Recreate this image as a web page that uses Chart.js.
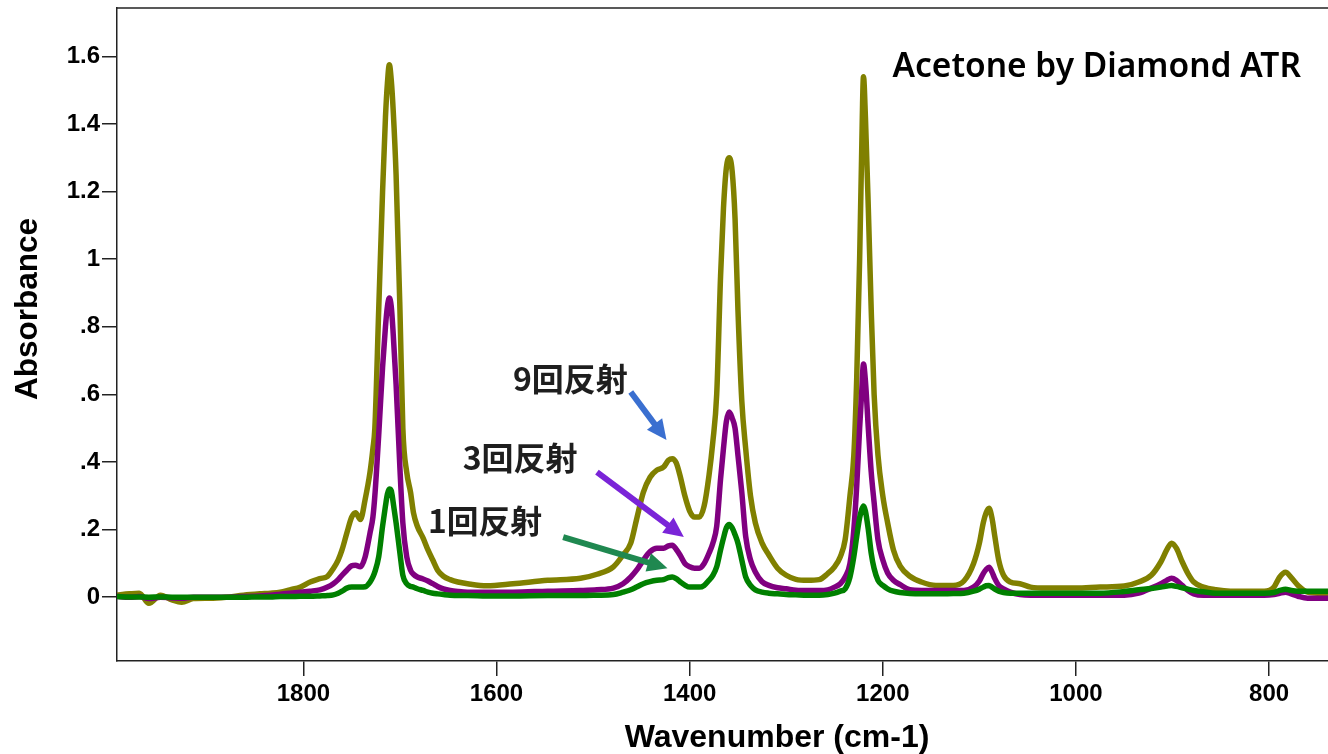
<!DOCTYPE html>
<html>
<head>
<meta charset="utf-8">
<script src="https://cdn.jsdelivr.net/npm/chart.js@4.4.1/dist/chart.umd.min.js"></script>
<style>
  html, body { margin: 0; padding: 0; background: #fff; overflow: hidden; }
  #wrap { width: 1328px; height: 754px; }
</style>
</head>
<body>
<div id="wrap"><canvas id="chart" width="1328" height="754"></canvas></div>
<script>
// wavenumber (cm-1), shared by the three spectra
const wavenumbers = [
  1994, 1980, 1970, 1960, 1948, 1936, 1926, 1914, 1897, 1880, 1862, 1845, 1834, 1824, 1814, 1803,
  1793, 1783, 1775, 1769, 1764, 1760, 1755, 1750, 1746, 1741, 1736, 1731, 1728, 1726, 1722, 1718,
  1715, 1713, 1711, 1709, 1707, 1704, 1700, 1697, 1693, 1689, 1686, 1682, 1676, 1671, 1666, 1661,
  1655, 1648, 1640, 1630, 1610, 1583, 1547, 1513, 1496, 1479, 1469, 1461, 1455, 1448, 1441, 1434,
  1427, 1422, 1418, 1414, 1410, 1405, 1400, 1395, 1390, 1385, 1380, 1376, 1372, 1368, 1365, 1362,
  1359, 1356, 1353, 1350, 1346, 1342, 1337, 1332, 1325, 1318, 1309, 1300, 1290, 1278, 1266, 1257,
  1250, 1244, 1239, 1234, 1230, 1227, 1224, 1222, 1220, 1218, 1215, 1212, 1209, 1205, 1200, 1195,
  1189, 1182, 1172, 1160, 1145, 1127, 1116, 1106, 1100, 1096, 1093, 1090, 1087, 1084, 1080, 1075,
  1068, 1058, 1047, 1030, 1000, 975, 950, 935, 922, 912, 906, 901, 896, 890, 884, 878,
  868, 855, 840, 820, 805, 795, 789, 783, 777, 770, 760, 750, 738
];

// 9 reflections (olive)
const refl9 = [
  0.006, 0.010, 0.012, -0.018, 0.006, -0.008, -0.015, -0.004, -0.003, 0.000, 0.006, 0.010, 0.012, 0.015, 0.022, 0.030,
  0.045, 0.055, 0.062, 0.085, 0.110, 0.140, 0.190, 0.237, 0.250, 0.230, 0.290, 0.370, 0.440, 0.500, 0.850, 1.200,
  1.420, 1.520, 1.575, 1.530, 1.440, 1.250, 0.850, 0.500, 0.370, 0.310, 0.250, 0.210, 0.175, 0.140, 0.110, 0.080,
  0.062, 0.052, 0.045, 0.040, 0.034, 0.040, 0.050, 0.056, 0.068, 0.090, 0.125, 0.160, 0.230, 0.310, 0.355, 0.376,
  0.385, 0.405, 0.410, 0.398, 0.360, 0.300, 0.255, 0.237, 0.237, 0.270, 0.360, 0.460, 0.600, 0.950, 1.150, 1.270,
  1.300, 1.260, 1.120, 0.850, 0.580, 0.440, 0.300, 0.220, 0.160, 0.125, 0.086, 0.065, 0.053, 0.050, 0.052, 0.070,
  0.090, 0.120, 0.170, 0.300, 0.420, 0.650, 1.000, 1.300, 1.540, 1.420, 1.150, 0.850, 0.600, 0.420, 0.300, 0.220,
  0.140, 0.092, 0.062, 0.045, 0.035, 0.035, 0.048, 0.100, 0.160, 0.220, 0.250, 0.263, 0.235, 0.180, 0.110, 0.065,
  0.045, 0.040, 0.030, 0.027, 0.027, 0.030, 0.033, 0.045, 0.065, 0.105, 0.140, 0.160, 0.145, 0.105, 0.070, 0.045,
  0.030, 0.022, 0.018, 0.018, 0.018, 0.030, 0.060, 0.074, 0.058, 0.035, 0.015, 0.012, 0.012
];

// 3 reflections (purple)
const refl3 = [
  0.003, 0.000, 0.002, -0.004, 0.000, -0.002, -0.003, 0.000, 0.000, 0.000, 0.002, 0.004, 0.006, 0.009, 0.012, 0.015,
  0.018, 0.022, 0.030, 0.040, 0.052, 0.065, 0.080, 0.093, 0.095, 0.090, 0.120, 0.190, 0.237, 0.300, 0.480, 0.680,
  0.800, 0.860, 0.885, 0.860, 0.780, 0.630, 0.380, 0.220, 0.120, 0.080, 0.068, 0.060, 0.054, 0.048, 0.040, 0.032,
  0.025, 0.020, 0.017, 0.015, 0.015, 0.015, 0.018, 0.020, 0.022, 0.027, 0.040, 0.060, 0.080, 0.110, 0.135, 0.145,
  0.145, 0.152, 0.154, 0.142, 0.125, 0.100, 0.090, 0.086, 0.086, 0.100, 0.130, 0.160, 0.210, 0.350, 0.440, 0.520,
  0.548, 0.530, 0.500, 0.420, 0.310, 0.180, 0.110, 0.075, 0.046, 0.035, 0.028, 0.025, 0.021, 0.020, 0.020, 0.022,
  0.030, 0.040, 0.060, 0.100, 0.200, 0.330, 0.500, 0.600, 0.690, 0.640, 0.500, 0.370, 0.280, 0.170, 0.110, 0.072,
  0.050, 0.037, 0.022, 0.020, 0.020, 0.020, 0.020, 0.030, 0.048, 0.070, 0.082, 0.089, 0.075, 0.055, 0.035, 0.025,
  0.015, 0.008, 0.006, 0.006, 0.006, 0.006, 0.006, 0.012, 0.027, 0.040, 0.050, 0.056, 0.050, 0.035, 0.020, 0.010,
  0.006, 0.006, 0.006, 0.006, 0.006, 0.008, 0.012, 0.015, 0.010, 0.003, -0.003, -0.003, -0.003
];

// 1 reflection (green)
const refl1 = [
  0.002, 0.001, 0.001, 0.000, 0.001, 0.000, 0.000, 0.000, 0.000, 0.000, 0.000, 0.001, 0.001, 0.002, 0.002, 0.003,
  0.003, 0.004, 0.005, 0.007, 0.012, 0.018, 0.027, 0.030, 0.030, 0.030, 0.031, 0.045, 0.060, 0.075, 0.120, 0.210,
  0.270, 0.305, 0.320, 0.315, 0.280, 0.220, 0.130, 0.065, 0.040, 0.032, 0.030, 0.025, 0.020, 0.015, 0.012, 0.010,
  0.008, 0.006, 0.005, 0.005, 0.004, 0.004, 0.005, 0.005, 0.006, 0.008, 0.015, 0.022, 0.030, 0.040, 0.046, 0.050,
  0.052, 0.058, 0.060, 0.055, 0.046, 0.036, 0.030, 0.030, 0.030, 0.035, 0.050, 0.065, 0.090, 0.140, 0.175, 0.205,
  0.215, 0.205, 0.185, 0.160, 0.110, 0.060, 0.035, 0.022, 0.015, 0.012, 0.010, 0.008, 0.007, 0.006, 0.006, 0.008,
  0.012, 0.018, 0.025, 0.060, 0.120, 0.180, 0.235, 0.258, 0.270, 0.255, 0.200, 0.130, 0.085, 0.050, 0.035, 0.025,
  0.018, 0.014, 0.011, 0.010, 0.010, 0.011, 0.012, 0.018, 0.024, 0.030, 0.034, 0.035, 0.030, 0.024, 0.018, 0.014,
  0.012, 0.012, 0.012, 0.012, 0.012, 0.012, 0.017, 0.022, 0.026, 0.030, 0.033, 0.035, 0.032, 0.028, 0.024, 0.020,
  0.016, 0.012, 0.012, 0.012, 0.012, 0.014, 0.020, 0.024, 0.020, 0.018, 0.018, 0.018, 0.018
];

const xTicks = [1800, 1600, 1400, 1200, 1000, 800];
const xTickLabels = ['1800', '1600', '1400', '1200', '1000', '800'];
const yTicks = [0, 0.2, 0.4, 0.6, 0.8, 1.0, 1.2, 1.4, 1.6];
const yTickLabels = ['0', '.2', '.4', '.6', '.8', '1', '1.2', '1.4', '1.6'];

// annotation texts and arrows, placed in data coordinates
const notes = [
  { text: '9回反射', wn: 1583, abs: 0.646, width: 115 },
  { text: '3回反射', wn: 1635, abs: 0.412, width: 115 },
  { text: '1回反射', wn: 1671, abs: 0.225, width: 114 }
];
const arrows = [
  { color: '#3a6fd0', from: [1461, 0.607], to: [1424, 0.465] },
  { color: '#7a24d8', from: [1496, 0.370], to: [1406, 0.178] },
  { color: '#1f8850', from: [1531, 0.178], to: [1423, 0.086] }
];

function series(values) {
  return wavenumbers.map((wn, i) => ({ x: wn, y: values[i] }));
}

function fitFont(ctx, text, weight, family, targetWidth) {
  ctx.font = weight + ' 100px ' + family;
  const size = 100 * targetWidth / ctx.measureText(text).width;
  return weight + ' ' + size.toFixed(1) + 'px ' + family;
}

function drawArrow(ctx, x1, y1, x2, y2, color) {
  const ang = Math.atan2(y2 - y1, x2 - x1);
  const head = 20, half = 9.5;
  const bx = x2 - head * Math.cos(ang), by = y2 - head * Math.sin(ang);
  ctx.strokeStyle = color;
  ctx.fillStyle = color;
  ctx.lineWidth = 6;
  ctx.lineCap = 'butt';
  ctx.beginPath();
  ctx.moveTo(x1, y1);
  ctx.lineTo(bx + 2 * Math.cos(ang), by + 2 * Math.sin(ang));
  ctx.stroke();
  ctx.beginPath();
  ctx.moveTo(x2, y2);
  ctx.lineTo(bx + half * Math.sin(ang), by - half * Math.cos(ang));
  ctx.lineTo(bx - half * Math.sin(ang), by + half * Math.cos(ang));
  ctx.closePath();
  ctx.fill();
}

const decorations = {
  id: 'decorations',
  afterDraw(chart) {
    const { ctx, chartArea, scales: { x, y } } = chart;
    ctx.save();

    // top frame line
    ctx.strokeStyle = '#222';
    ctx.lineWidth = 1.5;
    ctx.beginPath();
    ctx.moveTo(chartArea.left, chartArea.top);
    ctx.lineTo(chartArea.right, chartArea.top);
    ctx.stroke();

    // axis titles
    ctx.fillStyle = '#000';
    ctx.textAlign = 'center';
    ctx.textBaseline = 'middle';
    ctx.font = fitFont(ctx, 'Wavenumber (cm-1)', 'bold', '"Liberation Sans", Arial, sans-serif', 305);
    ctx.fillText('Wavenumber (cm-1)', chartArea.left + 660, 738);
    ctx.save();
    ctx.translate(28, 309);
    ctx.rotate(-Math.PI / 2);
    ctx.font = fitFont(ctx, 'Absorbance', 'bold', '"Liberation Sans", Arial, sans-serif', 182);
    ctx.fillText('Absorbance', 0, 0);
    ctx.restore();

    // chart title
    ctx.textAlign = 'left';
    ctx.font = fitFont(ctx, 'Acetone by Diamond ATR', '600', '"Noto Sans", sans-serif', 408);
    ctx.fillText('Acetone by Diamond ATR', x.getPixelForValue(1190), y.getPixelForValue(1.566));

    // reflection labels
    ctx.fillStyle = '#1e1e1e';
    notes.forEach(n => {
      ctx.font = fitFont(ctx, n.text, 'bold', '"Noto Sans CJK JP", sans-serif', n.width);
      ctx.fillText(n.text, x.getPixelForValue(n.wn), y.getPixelForValue(n.abs));
    });

    arrows.forEach(a => {
      drawArrow(ctx,
        x.getPixelForValue(a.from[0]), y.getPixelForValue(a.from[1]),
        x.getPixelForValue(a.to[0]), y.getPixelForValue(a.to[1]),
        a.color);
    });
    ctx.restore();
  }
};

const tickFont = { family: '"Liberation Sans", Arial, sans-serif', size: 24, weight: 'bold' };

new Chart(document.getElementById('chart'), {
  type: 'line',
  data: {
    datasets: [
      { label: '1回反射', data: series(refl1), borderColor: '#008000' },
      { label: '3回反射', data: series(refl3), borderColor: '#800080' },
      { label: '9回反射', data: series(refl9), borderColor: '#808000' }
    ]
  },
  options: {
    responsive: false,
    animation: false,
    devicePixelRatio: 1,
    layout: { padding: { top: 8, right: 0, left: 0, bottom: 0 } },
    elements: {
      line: { borderWidth: 5.5, cubicInterpolationMode: 'monotone', borderCapStyle: 'round', borderJoinStyle: 'round' },
      point: { radius: 0 }
    },
    plugins: {
      legend: { display: false },
      tooltip: { enabled: false }
    },
    scales: {
      x: {
        type: 'linear',
        reverse: true,
        min: 739,
        max: 1993,
        afterBuildTicks: s => { s.ticks = xTicks.map(v => ({ value: v })); },
        afterFit: s => { s.height = 93; s.paddingLeft = 0; s.paddingRight = 0; },
        ticks: {
          font: tickFont,
          color: '#000',
          padding: 4,
          maxRotation: 0,
          autoSkip: false,
          callback: (v, i) => xTickLabels[i]
        },
        grid: { drawOnChartArea: false, drawTicks: true, tickLength: 15, color: '#222', lineWidth: 1.5 },
        border: { display: true, color: '#222', width: 1.5 }
      },
      y: {
        type: 'linear',
        min: -0.1886,
        max: 1.743,
        afterBuildTicks: s => { s.ticks = yTicks.map(v => ({ value: v })); },
        afterFit: s => { s.width = 117; s.paddingTop = 0; s.paddingBottom = 0; },
        ticks: {
          font: tickFont,
          color: '#000',
          padding: 2,
          callback: (v, i) => yTickLabels[i]
        },
        grid: { drawOnChartArea: false, drawTicks: true, tickLength: 15, color: '#222', lineWidth: 1.5 },
        border: { display: true, color: '#222', width: 1.5 }
      }
    }
  },
  plugins: [decorations]
});
</script>
</body>
</html>
